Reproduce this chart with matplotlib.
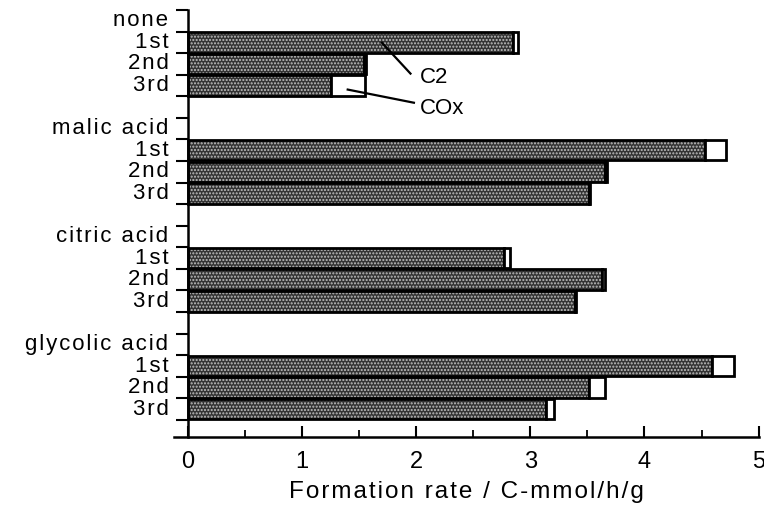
import matplotlib.pyplot as plt
import numpy as np

plt.rcParams['font.family'] = ['Liberation Sans', 'DejaVu Sans']

# groups and runs
groups = ['none', 'malic acid', 'citric acid', 'glycolic acid']
runs = ['1st', '2nd', '3rd']

# formation rates, C-mmol/h/g
c2 = [2.85, 1.54, 1.25,
      4.53, 3.65, 3.51,
      2.77, 3.63, 3.39,
      4.59, 3.51, 3.14]
cox = [0.04, 0.02, 0.30,
       0.18, 0.02, 0.01,
       0.05, 0.02, 0.01,
       0.19, 0.14, 0.07]


def spaced(s):
    # the original uses wide letter spacing
    return '\u200a'.join(s)


# row positions: header row, then 3 runs, then a blank row
rows = []
labels = []
label_pos = []
for g_i, g in enumerate(groups):
    base = g_i * 5
    labels.append(spaced(g))
    label_pos.append(base)
    for r_i, r in enumerate(runs):
        rows.append(base + 1 + r_i)
        labels.append(spaced(r))
        label_pos.append(base + 1 + r_i)
rows = np.array(rows)
c2 = np.array(c2)
cox = np.array(cox)

fig = plt.figure(figsize=(7.64, 5.23), dpi=100)
ax = fig.add_axes([0.228, 0.164, 0.765, 0.817])

h = 0.95
# hatched C2 bars: dotted fill, then black outline
ax.barh(rows, c2, height=h, color='#333333', hatch='.....', edgecolor='#c0c0c0', linewidth=0)
ax.barh(rows, c2, height=h, fill=False, edgecolor='black', linewidth=2.0)
ax.barh(rows, cox, left=c2, height=h, color='white', edgecolor='black', linewidth=2.0)

ax.set_xlim(-0.12, 5.0)
ax.set_ylim(19.3, -0.5)

ax.spines['top'].set_visible(False)
ax.spines['right'].set_visible(False)
ax.spines['left'].set_position(('data', 0))
ax.spines['left'].set_linewidth(1.8)
ax.spines['bottom'].set_linewidth(1.8)

ax.set_xticks([0, 1, 2, 3, 4, 5])
ax.set_xticks(np.arange(0.5, 5, 1), minor=True)
ax.tick_params(axis='x', which='major', direction='in', length=8, width=1.5, labelsize=17, pad=10)
ax.tick_params(axis='x', which='minor', direction='in', length=5, width=1.3)

# y: ticks on row boundaries, labels on rows
ax.set_yticks(np.arange(-0.5, 19.0, 1.0))
ax.set_yticklabels([])
ax.set_yticks(label_pos, minor=True)
ax.set_yticklabels(labels, minor=True)
ax.tick_params(axis='y', which='major', direction='out', length=9, width=1.5)
ax.tick_params(axis='y', which='minor', length=0, labelsize=16, pad=14)
for t in ax.get_yticklabels(minor=True):
    t.set_verticalalignment('center')

ax.set_xlabel(spaced('Formation rate / C-mmol/h/g'), fontsize=17.5, labelpad=6)

# labels with leader lines
ax.plot([1.70, 1.95], [1.02, 2.45], color='black', linewidth=1.6)
ax.text(2.03, 2.64, 'C2', fontsize=16, va='center', ha='left')
ax.plot([1.40, 1.98], [3.19, 3.80], color='black', linewidth=1.6)
ax.text(2.03, 4.07, 'COx', fontsize=16, va='center', ha='left')

fig.savefig('out.png', dpi=100)
